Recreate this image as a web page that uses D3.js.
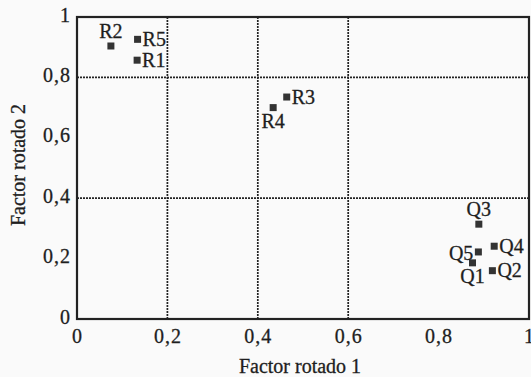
<!DOCTYPE html>
<html>
<head>
<meta charset="utf-8">
<script src="https://cdn.jsdelivr.net/npm/d3@7"></script>
<style>
  body { margin: 0; background: #fafafa; }
  svg { display: block; font-family: "Liberation Serif", "DejaVu Serif", serif; }
</style>
</head>
<body>
<svg id="chart" width="531" height="377"></svg>
<script>
// loadings
const names = ['R1', 'R2', 'R3', 'R4', 'R5', 'Q1', 'Q2', 'Q3', 'Q4', 'Q5'];
const factor1 = [0.133, 0.075, 0.464, 0.434, 0.134, 0.875, 0.919, 0.889, 0.923, 0.888];
const factor2 = [0.857, 0.904, 0.735, 0.700, 0.926, 0.186, 0.160, 0.314, 0.241, 0.222];
// where each label sits relative to its point
const labelPos = ['right', 'above', 'right', 'below', 'right', 'below', 'right', 'above', 'right', 'left'];

const xTicks = [0, 0.2, 0.4, 0.6, 0.8, 1];
const yTicks = [0, 0.2, 0.4, 0.6, 0.8, 1];
const xGrid = [0.2, 0.4, 0.6];
const yGrid = [0.4, 0.8];

const svg = d3.select('#chart');
const margin = { top: 17, right: 2, bottom: 58, left: 77 };
const width = +svg.attr('width') - margin.left - margin.right;
const height = +svg.attr('height') - margin.top - margin.bottom;

const x = d3.scaleLinear().domain([0, 1]).range([0, width]);
const y = d3.scaleLinear().domain([0, 1]).range([height, 0]);

const g = svg.append('g').attr('transform', `translate(${margin.left},${margin.top})`);
const fmt = (d) => String(d).replace('.', ',');
const ink = '#1e1e1e';

// dotted grid
g.selectAll('.vgrid')
  .data(xGrid)
  .enter()
  .append('line')
  .attr('x1', (d) => x(d)).attr('x2', (d) => x(d))
  .attr('y1', 0).attr('y2', height)
  .attr('stroke', '#222')
  .attr('stroke-width', 1.7)
  .attr('stroke-dasharray', '2,1');

g.selectAll('.hgrid')
  .data(yGrid)
  .enter()
  .append('line')
  .attr('y1', (d) => y(d)).attr('y2', (d) => y(d))
  .attr('x1', 0).attr('x2', width)
  .attr('stroke', '#222')
  .attr('stroke-width', 1.7)
  .attr('stroke-dasharray', '2,1');

// frame
g.append('rect')
  .attr('width', width)
  .attr('height', height)
  .attr('fill', 'none')
  .attr('stroke', '#222')
  .attr('stroke-width', 2.2);

// axes (labels only, frame already drawn)
const xAxis = g.append('g')
  .attr('transform', `translate(0,${height})`)
  .call(d3.axisBottom(x).tickValues(xTicks).tickFormat(fmt).tickSize(0).tickPadding(10));
const yAxis = g.append('g')
  .call(d3.axisLeft(y).tickValues(yTicks).tickFormat(fmt).tickSize(0).tickPadding(6));

[xAxis, yAxis].forEach((a) => {
  a.select('.domain').remove();
  a.selectAll('text')
    .attr('fill', ink)
    .attr('stroke', ink)
    .attr('stroke-width', 0.3)
    .style('font-family', '"Liberation Serif", serif')
    .style('font-size', '20px')
    .style('letter-spacing', '1px');
});
yAxis.selectAll('text').attr('dy', '0.2em');

// axis titles
svg.append('text')
  .attr('x', 300)
  .attr('y', 373)
  .attr('text-anchor', 'middle')
  .attr('fill', ink)
  .attr('stroke', ink)
  .attr('stroke-width', 0.3)
  .style('font-size', '20px')
  .text('Factor rotado 1');

svg.append('text')
  .attr('transform', 'translate(25,165) rotate(-90)')
  .attr('text-anchor', 'middle')
  .attr('fill', ink)
  .attr('stroke', ink)
  .attr('stroke-width', 0.3)
  .style('font-size', '20px')
  .text('Factor rotado 2');

// points
const pts = names.map((n, i) => ({ name: n, f1: factor1[i], f2: factor2[i], pos: labelPos[i] }));

g.selectAll('.pt')
  .data(pts)
  .enter()
  .append('rect')
  .attr('x', (d) => x(d.f1) - 3.5)
  .attr('y', (d) => y(d.f2) - 3.5)
  .attr('width', 7)
  .attr('height', 7)
  .attr('fill', '#333');

g.selectAll('.lbl')
  .data(pts)
  .enter()
  .append('text')
  .attr('x', (d) => {
    if (d.pos === 'right') return x(d.f1) + 5;
    if (d.pos === 'left') return x(d.f1) - 5;
    return x(d.f1);
  })
  .attr('y', (d) => {
    if (d.pos === 'above') return y(d.f2) - 8;
    if (d.pos === 'below') return y(d.f2) + 20;
    if (d.pos === 'left') return y(d.f2) + 8;
    return y(d.f2) + 6.5;
  })
  .attr('text-anchor', (d) => (d.pos === 'right' ? 'start' : d.pos === 'left' ? 'end' : 'middle'))
  .attr('fill', ink)
  .attr('stroke', ink)
  .attr('stroke-width', 0.3)
  .style('font-size', '20px')
  .text((d) => d.name);
</script>
</body>
</html>
